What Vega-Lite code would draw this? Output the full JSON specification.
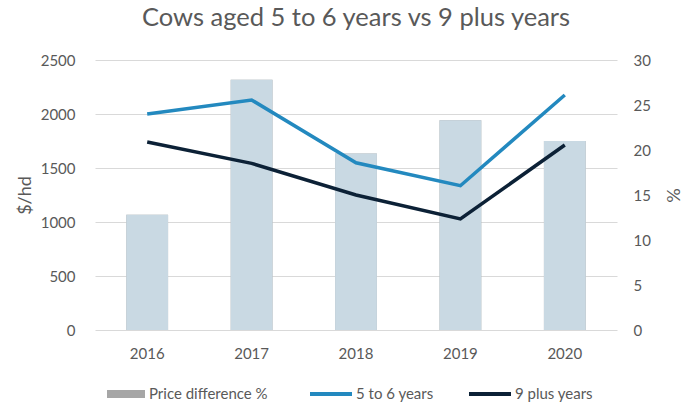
{
  "$schema": "https://vega.github.io/schema/vega-lite/v6.json",
  "width": 522,
  "height": 270,
  "autosize": {"type": "none"},
  "padding": {"left": 95, "top": 60, "right": 80, "bottom": 75},
  "background": "white",
  "title": {
    "text": "Cows aged 5 to 6 years vs 9 plus years",
    "font": "Lato",
    "fontSize": 25.5,
    "fontWeight": "normal",
    "color": "#595959",
    "anchor": "middle",
    "offset": 22
  },
  "config": {
    "view": {"stroke": null},
    "font": "Lato",
    "axis": {
      "labelFont": "Lato",
      "labelFontSize": 15,
      "labelColor": "#595959",
      "titleFont": "Lato",
      "titleFontSize": 18,
      "titleFontWeight": "normal",
      "titleColor": "#595959",
      "domain": false,
      "ticks": false
    },
    "legend": {
      "labelFont": "Lato",
      "labelFontSize": 15,
      "labelColor": "#595959",
      "padding": 0,
      "title": null
    }
  },
  "data": {
    "values": [
      {"year": "2016", "series": "Price difference %", "value": 12.8},
      {"year": "2017", "series": "Price difference %", "value": 27.8},
      {"year": "2018", "series": "Price difference %", "value": 19.6},
      {"year": "2019", "series": "Price difference %", "value": 23.3},
      {"year": "2020", "series": "Price difference %", "value": 21.0},
      {"year": "2016", "series": "5 to 6 years", "value": 2000},
      {"year": "2017", "series": "5 to 6 years", "value": 2130},
      {"year": "2018", "series": "5 to 6 years", "value": 1548},
      {"year": "2019", "series": "5 to 6 years", "value": 1336},
      {"year": "2020", "series": "5 to 6 years", "value": 2176},
      {"year": "2016", "series": "9 plus years", "value": 1741},
      {"year": "2017", "series": "9 plus years", "value": 1543},
      {"year": "2018", "series": "9 plus years", "value": 1250},
      {"year": "2019", "series": "9 plus years", "value": 1028},
      {"year": "2020", "series": "9 plus years", "value": 1713}
    ]
  },
  "encoding": {
    "x": {
      "field": "year",
      "type": "nominal",
      "scale": {"paddingInner": 0.6, "paddingOuter": 0.3},
      "axis": {"title": null, "labelAngle": 0, "labelPadding": 16, "grid": false}
    }
  },
  "layer": [
    {
      "transform": [{"filter": "datum.series === 'Price difference %'"}],
      "mark": {"type": "bar"},
      "encoding": {
        "y": {
          "field": "value",
          "type": "quantitative",
          "scale": {"domain": [0, 30]},
          "axis": {
            "orient": "right",
            "title": "%",
            "values": [0, 5, 10, 15, 20, 25, 30],
            "format": "d",
            "grid": false,
            "labelPadding": 16,
            "titlePadding": 12
          }
        },
        "fill": {
          "field": "series",
          "type": "nominal",
          "scale": {"range": ["#a6a6a6"]},
          "legend": {
            "orient": "none",
            "legendX": 12,
            "legendY": 315,
            "symbolType": "M-1,-0.21H1V0.21H-1Z",
            "symbolSize": 1444,
            "symbolStrokeWidth": 0,
            "labelOffset": 4
          }
        }
      }
    },
    {
      "transform": [{"filter": "datum.series === 'Price difference %'"}],
      "mark": {"type": "bar", "fill": "#c9d9e3"},
      "encoding": {
        "y": {"field": "value", "type": "quantitative", "scale": {"domain": [0, 30]}, "axis": null}
      }
    },
    {
      "transform": [{"filter": "datum.series !== 'Price difference %'"}],
      "mark": {"type": "line", "strokeWidth": 3.5},
      "encoding": {
        "y": {
          "field": "value",
          "type": "quantitative",
          "scale": {"domain": [0, 2500]},
          "axis": {
            "orient": "left",
            "title": "$/hd",
            "values": [0, 500, 1000, 1500, 2000, 2500],
            "format": "d",
            "grid": true,
            "gridColor": "#d9d9d9",
            "gridWidth": 1,
            "labelPadding": 20,
            "titlePadding": 6
          }
        },
        "stroke": {
          "field": "series",
          "type": "nominal",
          "scale": {"domain": ["5 to 6 years", "9 plus years"], "range": ["#2389bf", "#0c2136"]},
          "legend": {
            "orient": "none",
            "legendX": 213,
            "legendY": 311,
            "direction": "horizontal",
            "columns": 2,
            "columnPadding": 27,
            "symbolType": "M-1,0H1",
            "symbolSize": 1764,
            "symbolStrokeWidth": 4,
            "labelOffset": 2
          }
        }
      }
    }
  ],
  "resolve": {"scale": {"y": "independent", "fill": "independent", "stroke": "independent"}}
}
